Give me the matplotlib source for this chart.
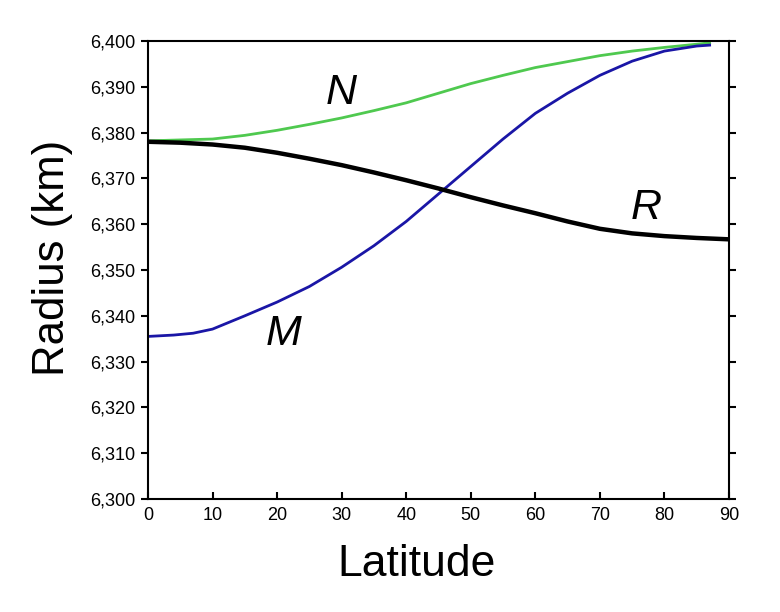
import numpy as np
import matplotlib
matplotlib.use("Agg")
import matplotlib.pyplot as plt

plt.rcParams["font.family"] = ["Liberation Sans", "DejaVu Sans"]

# valores (latitud en grados, radio en km)
lat_R = [0, 5, 10, 15, 20, 25, 30, 35, 40, 45, 50, 55, 60, 65, 70, 75, 80, 85, 90]
rad_R = [6378.0, 6377.8, 6377.4, 6376.7, 6375.6, 6374.3, 6372.9, 6371.3, 6369.6,
         6367.8, 6365.9, 6364.1, 6362.4, 6360.6, 6359.0, 6358.0, 6357.4, 6357.0, 6356.7]

lat_N = [0, 5, 10, 15, 20, 25, 30, 35, 40, 45, 50, 55, 60, 65, 70, 75, 80, 85, 87]
rad_N = [6378.2, 6378.4, 6378.6, 6379.4, 6380.5, 6381.8, 6383.2, 6384.8, 6386.5,
         6388.6, 6390.7, 6392.5, 6394.2, 6395.5, 6396.8, 6397.8, 6398.6, 6399.3, 6399.6]

lat_M = [0, 4, 7, 10, 15, 20, 25, 30, 35, 40, 45, 50, 55, 60, 65, 70, 75, 80, 85, 87]
rad_M = [6335.5, 6335.8, 6336.2, 6337.1, 6340.0, 6343.0, 6346.4, 6350.6, 6355.3,
         6360.6, 6366.6, 6372.6, 6378.6, 6384.2, 6388.6, 6392.5, 6395.6, 6397.8,
         6398.9, 6399.1]

labels = [("N", 30, 6388.6), ("R", 77.1, 6363.5), ("M", 21, 6336.0)]

fig = plt.figure(figsize=(7.8, 6.12), dpi=100)
ax = fig.add_axes([0.1897, 0.1846, 0.9346 - 0.1897, 0.933 - 0.1846])

ax.plot(lat_N, rad_N, color="#4fc94f", lw=2.0)
ax.plot(lat_M, rad_M, color="#1a16a6", lw=2.0)
ax.plot(lat_R, rad_R, color="black", lw=3.2)

for txt, x, y in labels:
    ax.text(x, y, txt, fontsize=31, style="italic", ha="center", va="center")

ax.set_xlim(0, 90)
ax.set_ylim(6300, 6400)
ax.set_xticks(np.arange(0, 91, 10))
ax.set_yticks(np.arange(6300, 6401, 10))
ax.set_yticklabels([f"{v:,}" for v in range(6300, 6401, 10)])
ax.tick_params(axis="x", direction="in", length=5, width=1.5, labelsize=13, pad=6)
ax.tick_params(axis="y", direction="out", length=5, width=1.5, labelsize=13,
               right=True, pad=4)
for s in ax.spines.values():
    s.set_linewidth(1.5)

# títulos de ejes colocados a mano (no centrados en el eje en el original)
fig.text(417 / 780, 1 - 576 / 612, "Latitude", fontsize=32,
         ha="center", va="baseline")
fig.text(64 / 780, 1 - 257.5 / 612, "Radius (km)", fontsize=31.5, rotation=90,
         rotation_mode="anchor", ha="center", va="baseline")

fig.savefig("out.png", dpi=100)
